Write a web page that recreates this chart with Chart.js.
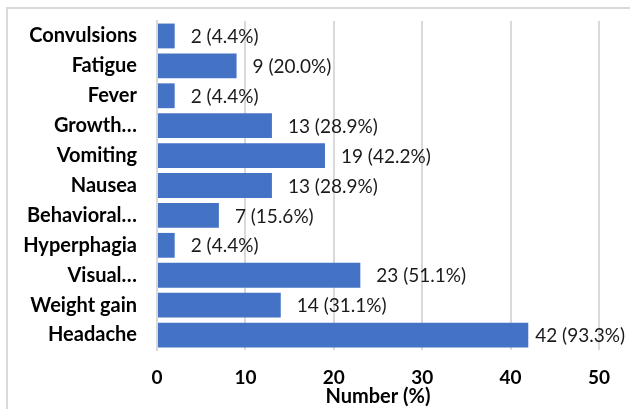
<!DOCTYPE html>
<html>
<head>
<meta charset="utf-8">
<script src="https://cdn.jsdelivr.net/npm/chart.js@4.4.1/dist/chart.umd.min.js"></script>
<style>
  html, body { margin: 0; padding: 0; background: #fff; }
  #wrap { width: 630px; height: 409px; position: relative; }
</style>
</head>
<body>
<div id="wrap"><canvas id="myChart"></canvas></div>
<script>
// data
const categories = ['Convulsions', 'Fatigue', 'Fever', 'Growth\u2026', 'Vomiting', 'Nausea',
  'Behavioral\u2026', 'Hyperphagia', 'Visual\u2026', 'Weight gain', 'Headache'];
const counts = [2, 9, 2, 13, 19, 13, 7, 2, 23, 14, 42];
const percents = ['4.4', '20.0', '4.4', '28.9', '42.2', '28.9', '15.6', '4.4', '51.1', '31.1', '93.3'];
const xTicks = [0, 10, 20, 30, 40, 50];

// frame lines (top + left), like the cropped chart border
const framePlugin = {
  id: 'frame',
  beforeDraw(chart) {
    const ctx = chart.ctx;
    ctx.save();
    ctx.strokeStyle = '#d9d9d9';
    ctx.lineWidth = 2;
    ctx.beginPath();
    ctx.moveTo(7, chart.height);
    ctx.lineTo(7, 8);
    ctx.lineTo(chart.width, 8);
    ctx.stroke();
    ctx.restore();
  }
};

// "n (p%)" after each bar, pulled back in if it would run off the edge
const barLabels = {
  id: 'barLabels',
  afterDatasetsDraw(chart) {
    const ctx = chart.ctx;
    const meta = chart.getDatasetMeta(0);
    ctx.save();
    ctx.font = '19px Lato';
    ctx.fillStyle = '#1a1a1a';
    ctx.textAlign = 'left';
    ctx.textBaseline = 'middle';
    meta.data.forEach((bar, i) => {
      const txt = counts[i] + ' (' + percents[i] + '%)';
      const w = ctx.measureText(txt).width;
      const x = Math.min(bar.x + 16, chart.width - 5 - w);
      ctx.fillText(txt, x, bar.y + 1);
    });
    ctx.restore();
  }
};

const ctx = document.getElementById('myChart');
const myChart = new Chart(ctx, {
  type: 'bar',
  data: {
    labels: categories,
    datasets: [{
      data: counts,
      backgroundColor: '#4472c4',
      borderWidth: 0,
      barPercentage: 0.83,
      categoryPercentage: 1
    }]
  },
  options: {
    indexAxis: 'y',
    responsive: true,
    maintainAspectRatio: false,
    animation: false,
    layout: { padding: { top: 21, right: 31, left: 0, bottom: 0 } },
    plugins: {
      legend: { display: false },
      tooltip: { enabled: false }
    },
    scales: {
      x: {
        min: 0,
        max: 50,
        afterBuildTicks(scale) {
          scale.ticks = xTicks.map(v => ({ value: v }));
        },
        afterFit(scale) { scale.height = 59; },
        grid: { color: '#d9d9d9', lineWidth: 2, drawTicks: false },
        border: { display: false },
        ticks: {
          padding: 16,
          color: '#000',
          font: { family: 'Lato', size: 19, weight: 'bold' }
        },
        title: {
          display: true,
          text: 'Number (%)',
          color: '#000',
          padding: { top: 0, bottom: 0 },
          font: { family: 'Lato', size: 20, weight: 'bold' }
        }
      },
      y: {
        afterFit(scale) {
          scale.width = 157;
          scale.paddingTop = 0;
          scale.paddingBottom = 0;
        },
        grid: { display: false, drawTicks: false },
        border: { display: true, color: '#d9d9d9', width: 2 },
        ticks: {
          padding: 20,
          color: '#000',
          font: { family: 'Lato', size: 20, weight: 'bold' }
        }
      }
    }
  },
  plugins: [framePlugin, barLabels]
});
</script>
</body>
</html>
